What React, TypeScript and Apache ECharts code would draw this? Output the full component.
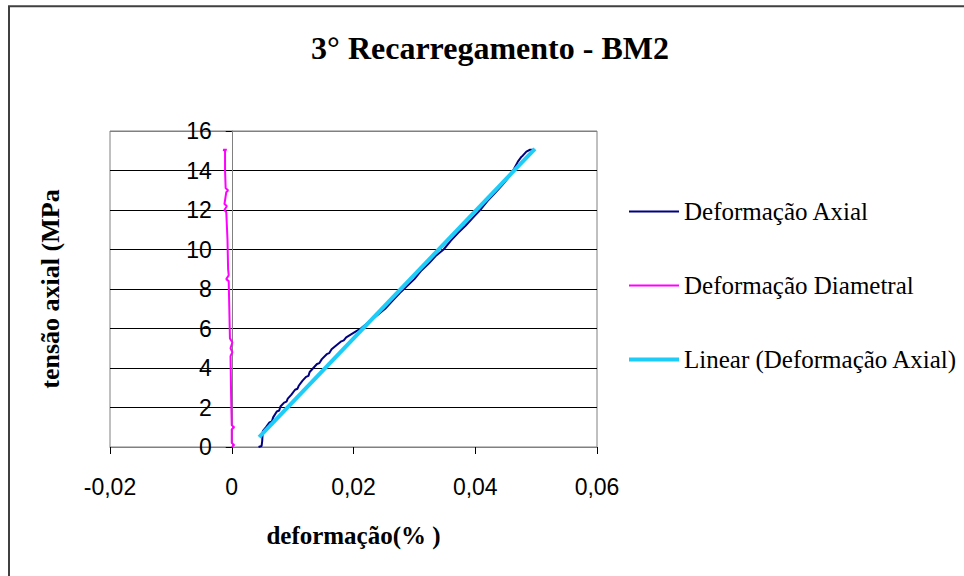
import React, { useEffect, useRef } from "react";
import * as echarts from "echarts";

const titleText = "3° Recarregamento - BM2";
const xName = "deformação(% )";
const yName = "tensão axial (MPa";
const seriesNames = ["Deformação Axial", "Deformação Diametral", "Linear (Deformação Axial)"];

const xTicks = { min: -0.02, max: 0.06, interval: 0.02 };
const yTicks = { min: 0, max: 16, interval: 2 };

const axialStrain = [
  0.0044, 0.0049, 0.005, 0.0051, 0.0056, 0.0062, 0.0066, 0.0068, 0.0074, 0.0078, 0.008, 0.0086, 0.009, 0.0092,
  0.0098, 0.0104, 0.0108, 0.011, 0.0116, 0.0122, 0.0126, 0.0128, 0.0134, 0.014, 0.0144, 0.0148, 0.0156, 0.016,
  0.0164, 0.0172, 0.018, 0.0184, 0.0188, 0.0196, 0.0204, 0.0212, 0.022, 0.023, 0.024, 0.0252, 0.0264, 0.0276,
  0.0288, 0.03, 0.0312, 0.0324, 0.0336, 0.0348, 0.036, 0.0372, 0.0384, 0.0396, 0.0408, 0.042, 0.0432, 0.0444,
  0.0456, 0.0464, 0.047, 0.0476, 0.0478, 0.0484, 0.049, 0.0496,
];
const axialStress = [
  0, 0.05, 0.3, 0.8, 1.0, 1.25, 1.3, 1.5, 1.8, 1.85, 2.05, 2.25, 2.3, 2.45,
  2.65, 2.9, 2.95, 3.1, 3.35, 3.55, 3.6, 3.8, 4.0, 4.2, 4.25, 4.45, 4.7, 4.75,
  4.95, 5.15, 5.35, 5.4, 5.55, 5.7, 5.85, 6.0, 6.2, 6.45, 6.7, 7.0, 7.4, 7.8,
  8.15, 8.5, 8.95, 9.3, 9.7, 10.0, 10.45, 10.85, 11.2, 11.6, 12.0, 12.45, 12.85, 13.25,
  13.7, 14.1, 14.45, 14.7, 14.75, 14.96, 15.05, 15.05,
];

const diametralStrain = [
  0.0, 0.0004, 0.0, 0.0, 0.0004, 0.0, -0.0001, -0.0002, 0.0001, -0.0002, 0.0001, -0.0003, -0.0004, -0.0005,
  -0.0009, -0.0005, -0.0006, -0.0007, -0.0009, -0.0012, -0.0008, -0.0012, -0.0009, -0.0006, -0.001, -0.0011,
  -0.0011, -0.0014, -0.0008,
];
const diametralStress = [
  0, 0.1, 0.2, 0.9, 1.0, 1.1, 2.5, 4.6, 4.8, 5.0, 5.3, 5.5, 7.0, 8.4,
  8.5, 8.7, 9.0, 10.5, 11.9, 12.0, 12.2, 12.3, 12.9, 13.0, 13.1, 14.0,
  15.0, 15.05, 15.05,
];

const linearStrain = [0.0045, 0.0498];
const linearStress = [0.5, 15.1];

const zip = (xs: number[], ys: number[]) => xs.map((x, i) => [x, ys[i]]);

function fmt(v: number): string {
  if (Math.abs(v) < 1e-9) return "0";
  return v.toFixed(2).replace(".", ",");
}

export default function App() {
  const ref = useRef<HTMLDivElement>(null);
  useEffect(() => {
    if (!ref.current) return;
    const chart = echarts.init(ref.current, null, { renderer: "svg" });
    const serif = "'Liberation Serif', 'Times New Roman', serif";
    const sans = "'Liberation Sans', Arial, sans-serif";
    const gridLeft = 110;
    const gridRight = 964 - 597;
    const plotW = 597 - 110;
    // y axis drawn where x = 0
    const yAxisOffset = -plotW * ((0 - xTicks.min) / (xTicks.max - xTicks.min));
    chart.setOption({
      animation: false,
      backgroundColor: "#ffffff",
      title: {
        text: titleText,
        left: 485,
        top: 27,
        textAlign: "center",
        textStyle: { fontFamily: serif, fontWeight: "bold", fontSize: 32, color: "#000" },
      },
      graphic: [
        {
          type: "rect",
          shape: { x: 9, y: 6.3, width: 1000, height: 1000 },
          style: { fill: "none", stroke: "#404040", lineWidth: 2 },
          silent: true,
        },
      ],
      legend: {
        orient: "vertical",
        left: 627,
        top: 199,
        padding: 0,
        itemWidth: 50,
        itemHeight: 4,
        itemGap: 49,
        itemStyle: { opacity: 0 },
        textStyle: { fontFamily: serif, fontSize: 25, color: "#000" },
        data: [
          { name: seriesNames[0], lineStyle: { width: 2 } },
          { name: seriesNames[1], lineStyle: { width: 2 } },
          { name: seriesNames[2], lineStyle: { width: 4 } },
        ],
      },
      grid: {
        left: gridLeft,
        top: 131,
        right: gridRight,
        bottom: 129,
        show: true,
        borderColor: "#808080",
        borderWidth: 1,
        containLabel: false,
        outerBoundsMode: "none",
      },
      xAxis: {
        type: "value",
        min: xTicks.min,
        max: xTicks.max,
        interval: xTicks.interval,
        name: xName,
        nameLocation: "middle",
        nameGap: 76,
        nameTextStyle: { fontFamily: serif, fontWeight: "bold", fontSize: 25, color: "#000" },
        axisLine: { show: true, onZero: true, lineStyle: { color: "#808080", width: 1 } },
        axisTick: { show: true, inside: false, length: 7, lineStyle: { color: "#000" } },
        axisLabel: {
          formatter: (v: number) => fmt(v),
          margin: 28,
          fontFamily: sans,
          fontSize: 23,
          color: "#000",
        },
        splitLine: { show: false },
      },
      yAxis: {
        type: "value",
        position: "left",
        offset: yAxisOffset,
        min: yTicks.min,
        max: yTicks.max,
        interval: yTicks.interval,
        name: yName,
        nameLocation: "middle",
        nameGap: 168,
        nameTextStyle: { fontFamily: serif, fontWeight: "bold", fontSize: 26, color: "#000" },
        axisLine: { show: true, onZero: false, lineStyle: { color: "#808080", width: 1 } },
        axisTick: { show: true, inside: false, length: 6, lineStyle: { color: "#000" } },
        axisLabel: { margin: 20, fontFamily: sans, fontSize: 23, color: "#000" },
        splitLine: {
          show: true,
          lineStyle: {
            color: ["#000", "#000", "#000", "#000", "#000", "#000", "#000", "#000", "#808080"],
            width: 1,
          },
        },
      },
      series: [
        {
          name: seriesNames[0],
          type: "line",
          data: zip(axialStrain, axialStress),
          symbol: "none",
          lineStyle: { color: "#000080", width: 2 },
          itemStyle: { color: "#000080" },
          z: 2,
        },
        {
          name: seriesNames[1],
          type: "line",
          data: zip(diametralStrain, diametralStress),
          symbol: "none",
          lineStyle: { color: "#FF00FF", width: 2 },
          itemStyle: { color: "#FF00FF" },
          z: 3,
        },
        {
          name: seriesNames[2],
          type: "line",
          data: zip(linearStrain, linearStress),
          symbol: "none",
          lineStyle: { color: "#1ECCF8", width: 4 },
          itemStyle: { color: "#1ECCF8" },
          z: 4,
        },
      ],
    });
    return () => chart.dispose();
  }, []);
  return (
    <div
      ref={ref}
      style={{ position: "fixed", left: 0, top: 0, width: 964, height: 576, background: "#fff" }}
    />
  );
}
